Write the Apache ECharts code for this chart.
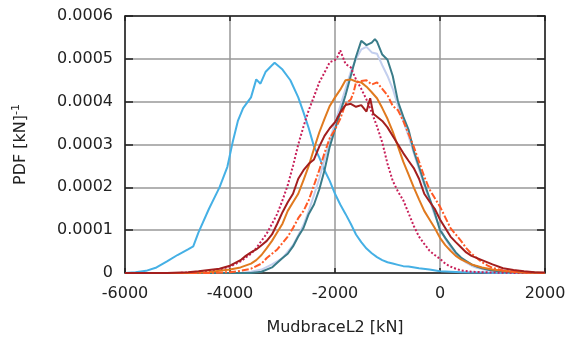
<!DOCTYPE html>
<html>
<head>
<meta charset="utf-8">
<script src="https://cdn.jsdelivr.net/npm/echarts@6/dist/echarts.min.js"></script>
<style>
  html, body { margin: 0; padding: 0; background: #fff; }
  #main { width: 571px; height: 342px; }
</style>
</head>
<body>
<div id="main"></div>
<script>
// x in kN, y in units of 1e-4 [kN]^-1 (converted when building the series)
var blueX = [-6000,-5800,-5600,-5400,-5200,-5000,-4800,-4700,-4600,-4400,-4200,-4050,-3950,-3850,-3750,-3600,-3500,-3420,-3320,-3200,-3150,-3000,-2850,-2700,-2600,-2500,-2400,-2300,-2200,-2100,-2000,-1900,-1800,-1700,-1600,-1500,-1400,-1300,-1200,-1100,-1000,-900,-800,-700,-600,-400,-200,0,200,400,600,800,1000,1500,2000];
var blueY = [0,0.02,0.05,0.13,0.27,0.42,0.55,0.62,0.95,1.5,2.0,2.48,3.05,3.55,3.85,4.1,4.52,4.42,4.7,4.85,4.91,4.75,4.5,4.1,3.75,3.38,2.95,2.7,2.4,2.15,1.85,1.6,1.38,1.15,0.9,0.72,0.57,0.46,0.37,0.3,0.25,0.22,0.19,0.16,0.15,0.11,0.08,0.04,0.03,0.02,0.01,0.01,0,0,0];

var tealX = [-6000,-3600,-3400,-3200,-3000,-2900,-2800,-2700,-2600,-2500,-2400,-2300,-2200,-2100,-2000,-1900,-1800,-1700,-1600,-1500,-1400,-1300,-1240,-1200,-1100,-1000,-900,-800,-700,-600,-500,-400,-300,-200,-100,0,100,200,300,400,500,600,700,800,900,1000,1200,1400,1600,2000];
var tealY = [0,0,0.03,0.13,0.35,0.45,0.62,0.85,1.05,1.38,1.6,1.95,2.4,2.95,3.35,3.75,4.15,4.6,5.05,5.42,5.32,5.38,5.46,5.4,5.1,4.98,4.6,4.0,3.65,3.35,2.85,2.48,2.1,1.75,1.4,1.0,0.82,0.65,0.48,0.36,0.28,0.2,0.15,0.11,0.08,0.06,0.03,0.02,0.01,0];

var lavenderX = [-6000,-3800,-3600,-3400,-3200,-3000,-2900,-2800,-2700,-2600,-2500,-2400,-2300,-2200,-2100,-2000,-1900,-1800,-1700,-1600,-1500,-1400,-1300,-1200,-1100,-1000,-900,-800,-700,-600,-500,-400,-300,-200,-100,0,100,200,300,400,500,600,700,800,1000,1200,1500,2000];
var lavenderY = [0,0,0.03,0.08,0.2,0.35,0.5,0.65,0.88,1.12,1.45,1.82,2.2,2.65,3.1,3.5,3.9,4.3,4.7,5.0,5.22,5.28,5.15,5.12,4.85,4.6,4.3,3.9,3.55,3.2,2.8,2.42,2.05,1.7,1.35,1.05,0.8,0.6,0.45,0.33,0.24,0.17,0.12,0.09,0.05,0.03,0.01,0];

var crimsonX = [-6000,-5000,-4600,-4400,-4200,-4000,-3800,-3600,-3500,-3400,-3300,-3200,-3100,-3000,-2900,-2800,-2700,-2600,-2500,-2400,-2300,-2200,-2100,-2000,-1950,-1900,-1800,-1700,-1600,-1500,-1400,-1300,-1200,-1100,-1000,-900,-800,-700,-600,-500,-400,-300,-200,-100,0,100,200,300,400,600,800,1000,1500,2000];
var crimsonY = [0,0,0.02,0.04,0.08,0.15,0.27,0.45,0.58,0.75,0.92,1.15,1.38,1.7,2.05,2.5,3.0,3.42,3.8,4.12,4.45,4.68,4.92,4.97,5.05,5.2,4.88,4.8,4.52,4.3,4.05,3.75,3.42,3.05,2.55,2.15,1.9,1.7,1.4,1.1,0.85,0.68,0.52,0.42,0.33,0.22,0.15,0.1,0.06,0.03,0.02,0.01,0,0];

var orangeX = [-6000,-4800,-4400,-4200,-4000,-3800,-3600,-3500,-3400,-3300,-3200,-3100,-3000,-2900,-2800,-2700,-2600,-2500,-2400,-2300,-2200,-2100,-2000,-1900,-1800,-1700,-1600,-1500,-1400,-1300,-1200,-1100,-1000,-900,-800,-700,-600,-500,-400,-300,-200,-100,0,100,200,300,400,500,600,800,1000,1200,1500,2000];
var orangeY = [0,0,0.02,0.05,0.08,0.13,0.22,0.3,0.42,0.58,0.75,0.95,1.15,1.45,1.65,1.85,2.17,2.5,2.9,3.28,3.6,3.9,4.1,4.28,4.5,4.52,4.47,4.45,4.35,4.22,4.08,3.85,3.6,3.3,2.95,2.6,2.3,2.0,1.72,1.45,1.25,1.05,0.82,0.65,0.52,0.4,0.32,0.26,0.2,0.13,0.08,0.05,0.02,0];

var orangeRedX = [-6000,-4400,-4000,-3800,-3600,-3400,-3300,-3200,-3100,-3000,-2900,-2800,-2700,-2600,-2500,-2400,-2300,-2200,-2100,-2000,-1900,-1800,-1700,-1650,-1600,-1500,-1400,-1300,-1200,-1100,-1000,-900,-800,-700,-600,-500,-400,-300,-200,-100,0,100,200,300,400,500,600,700,800,900,1000,1200,1400,1600,2000];
var orangeRedY = [0,0,0.02,0.05,0.1,0.22,0.35,0.45,0.55,0.7,0.85,1.05,1.28,1.45,1.7,2.05,2.4,2.8,3.15,3.35,3.6,3.95,4.05,4.2,4.45,4.48,4.5,4.4,4.45,4.3,4.15,3.9,3.8,3.55,3.25,2.95,2.6,2.25,1.95,1.75,1.55,1.3,1.05,0.9,0.75,0.58,0.45,0.35,0.25,0.18,0.12,0.06,0.03,0.01,0];

var darkRedX = [-6000,-5200,-4800,-4600,-4400,-4200,-4000,-3800,-3700,-3600,-3500,-3400,-3300,-3200,-3100,-3000,-2900,-2800,-2700,-2600,-2500,-2400,-2300,-2200,-2100,-2000,-1900,-1800,-1700,-1600,-1500,-1400,-1330,-1270,-1200,-1100,-1000,-900,-800,-700,-600,-500,-400,-300,-200,-100,0,100,200,300,400,500,600,800,1000,1200,1400,1600,1800,2000];
var darkRedY = [0,0,0.02,0.04,0.07,0.1,0.17,0.3,0.4,0.48,0.55,0.65,0.75,0.9,1.15,1.42,1.65,1.85,2.2,2.4,2.55,2.65,2.95,3.2,3.38,3.52,3.75,3.92,3.95,3.88,3.92,3.77,4.08,3.72,3.65,3.55,3.4,3.2,3.0,2.8,2.62,2.45,2.2,1.85,1.67,1.5,1.25,1.05,0.85,0.72,0.6,0.48,0.4,0.3,0.2,0.11,0.07,0.04,0.02,0.01];

function pairs(xs, ys) {
  var out = [];
  for (var i = 0; i < xs.length; i++) {
    out.push([xs[i], ys[i] * 1e-4]);
  }
  return out;
}

function lineSeries(name, xs, ys, color, type) {
  return {
    name: name,
    type: 'line',
    showSymbol: false,
    symbol: 'none',
    data: pairs(xs, ys),
    lineStyle: { color: color, width: 2, type: type || 'solid' },
    itemStyle: { color: color },
    z: 3
  };
}

var myChart = echarts.init(document.getElementById('main'));
var fontFam = 'DejaVu Sans';
var boxLine = { show: true, onZero: false, lineStyle: { color: '#222', width: 1.5 } };

myChart.setOption({
  animation: false,
  grid: { left: 125, right: 26, top: 16, bottom: 69 },
  xAxis: [{
    type: 'value',
    min: -6000, max: 2000, interval: 2000,
    name: 'MudbraceL2 [kN]',
    nameLocation: 'middle',
    nameGap: 47,
    nameTextStyle: { fontFamily: fontFam, fontSize: 16, color: '#222' },
    axisLine: boxLine,
    axisTick: { show: true, inside: true, length: 5, lineStyle: { color: '#222', width: 1.5 } },
    axisLabel: { fontFamily: fontFam, fontSize: 16, color: '#222', margin: 13,
      formatter: function (v) { return String(v); } },
    splitLine: { show: true, lineStyle: { color: '#999', width: 1.5 } }
  }, {
    type: 'value', position: 'top',
    min: -6000, max: 2000, interval: 2000,
    axisLine: boxLine,
    axisTick: { show: true, inside: true, length: 5, lineStyle: { color: '#222', width: 1.5 } },
    axisLabel: { show: false },
    splitLine: { show: false }
  }],
  yAxis: [{
    type: 'value',
    min: 0, max: 0.0006, interval: 0.0001,
    name: '{a|PDF [kN]}{s|-1}',
    nameLocation: 'middle',
    nameGap: 95,
    nameRotate: 90,
    nameTextStyle: {
      fontFamily: fontFam, color: '#222',
      rich: {
        a: { fontFamily: fontFam, fontSize: 16, color: '#222' },
        s: { fontFamily: fontFam, fontSize: 11, color: '#222', verticalAlign: 'top', padding: [0, 0, 8, 0] }
      }
    },
    axisLine: boxLine,
    axisTick: { show: true, inside: true, length: 8, lineStyle: { color: '#222', width: 1.5 } },
    axisLabel: { fontFamily: fontFam, fontSize: 16, color: '#222', margin: 12,
      formatter: function (v) { return v === 0 ? '0' : v.toFixed(4); } },
    splitLine: { show: true, lineStyle: { color: '#999', width: 1.5 } }
  }, {
    type: 'value', position: 'right',
    min: 0, max: 0.0006, interval: 0.0001,
    axisLine: boxLine,
    axisTick: { show: true, inside: true, length: 8, lineStyle: { color: '#222', width: 1.5 } },
    axisLabel: { show: false },
    splitLine: { show: false }
  }],
  series: [
    lineSeries('S1', blueX, blueY, '#45B0E5'),
    lineSeries('S2', lavenderX, lavenderY, '#C3CFEE'),
    lineSeries('S3', tealX, tealY, '#3A7C89'),
    lineSeries('S4', crimsonX, crimsonY, '#C8205A', [2, 2]),
    lineSeries('S5', orangeX, orangeY, '#E07A1F'),
    lineSeries('S6', orangeRedX, orangeRedY, '#FF5A26', [7, 2, 2, 2]),
    lineSeries('S7', darkRedX, darkRedY, '#A31E1E')
  ]
});
</script>
</body>
</html>
